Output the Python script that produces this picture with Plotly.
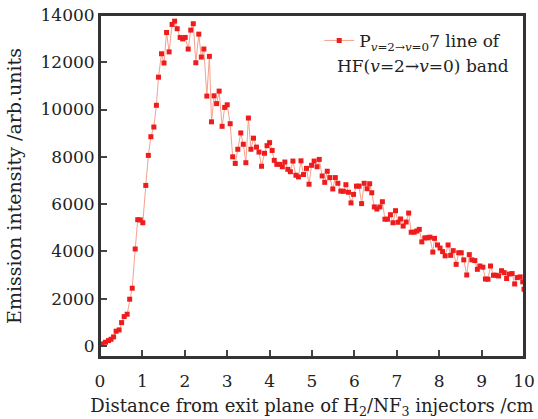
import plotly.graph_objects as go

# distance from exit plane (cm) and emission intensity (arb. units)
distance = [
    0.05, 0.13, 0.20, 0.26, 0.32, 0.38, 0.45, 0.51, 0.57, 0.64,
    0.70, 0.76, 0.83, 0.89, 0.95, 1.01, 1.08, 1.14, 1.20, 1.27,
    1.33, 1.38, 1.45, 1.51, 1.57, 1.63, 1.70, 1.76, 1.82, 1.89,
    1.95, 2.01, 2.08, 2.14, 2.20, 2.26, 2.33, 2.39, 2.45, 2.52,
    2.58, 2.63, 2.69, 2.75, 2.81, 2.88, 2.94, 3.00, 3.07, 3.13,
    3.19, 3.25, 3.32, 3.38, 3.44, 3.50, 3.56, 3.62, 3.69, 3.75,
    3.81, 3.88, 3.94, 4.00, 4.06, 4.11, 4.17, 4.24, 4.30, 4.36,
    4.43, 4.49, 4.55, 4.62, 4.68, 4.74, 4.80, 4.87, 4.93, 4.99,
    5.05, 5.12, 5.17, 5.24, 5.30, 5.36, 5.42, 5.49, 5.55, 5.61,
    5.68, 5.74, 5.80, 5.86, 5.92, 5.98, 6.05, 6.11, 6.17, 6.23,
    6.30, 6.36, 6.41, 6.47, 6.53, 6.60, 6.66, 6.72, 6.78, 6.85,
    6.91, 6.97, 7.03, 7.09, 7.15, 7.22, 7.28, 7.34, 7.41, 7.47,
    7.53, 7.59, 7.66, 7.72, 7.78, 7.85, 7.89, 7.96, 8.02, 8.08,
    8.14, 8.21, 8.27, 8.33, 8.40, 8.46, 8.52, 8.58, 8.65, 8.71,
    8.77, 8.84, 8.90, 8.96, 9.03, 9.09, 9.15, 9.21, 9.28, 9.34,
    9.40, 9.47, 9.53, 9.59, 9.65, 9.72, 9.78, 9.84, 9.91, 9.97,
    10.0,
]
intensity = [
    85, 155, 225, 280, 380, 620, 675, 985, 1240, 1340,
    1975, 2440, 4100, 5340, 5330, 5210, 6790, 8060, 8850, 9260,
    10180, 11370, 12360, 11970, 13260, 12440, 13600, 13740, 13420, 13050,
    12990, 13050, 12560, 13360, 13630, 11980, 13190, 12220, 12560, 10570,
    12250, 9480, 10580, 10250, 10780, 9290, 10090, 10200, 9400, 8000,
    7720, 8320, 9010, 8530, 7750, 9640, 8320, 8790, 8410, 8200,
    7600, 8150, 8470, 8600, 8270, 7850, 7680, 7680, 7580, 7780,
    7470, 7370, 7820, 7220, 7150, 7830, 7250, 7510, 6840, 7640,
    7820, 7580, 7890, 7190, 6920, 7390, 7120, 6640, 7120, 6880,
    6550, 6540, 6820, 6500, 6050, 6410, 6760, 6760, 6020, 6880,
    6650, 6860, 6480, 5880, 5790, 5880, 6100, 5360, 5360, 5550,
    5210, 5720, 5230, 5370, 5070, 5240, 5620, 4810, 4810, 4860,
    4930, 4400, 4570, 4570, 4600, 3970, 4550, 4270, 4140, 3990,
    3810, 4270, 3830, 4030, 3450, 3940, 3940, 3640, 3000, 3860,
    3640, 3610, 3240, 3380, 3330, 2830, 2820, 3380, 2990, 2990,
    2960, 3180, 3100, 2850, 3040, 3060, 2620, 2890, 2920, 2710,
    2400,
]

x_ticks = list(range(0, 11))
y_ticks = [0, 2000, 4000, 6000, 8000, 10000, 12000, 14000]

FONT = "DejaVu Serif"
TXT = "#222222"

fig = go.Figure()
fig.add_trace(go.Scatter(
    x=distance, y=intensity, mode="lines+markers",
    line=dict(color="#f7a08c", width=1),
    marker=dict(symbol="square", size=5, color="#ee1c1c"),
    name="P<sub><i>v</i>=2→<i>v</i>=0</sub>7 line of",
))

axis_common = dict(
    showline=True, linecolor="#333333", linewidth=2, mirror=True,
    ticks="inside", ticklen=7, tickwidth=2, tickcolor="#444444",
    showgrid=False, zeroline=False, automargin=False,
    ticklabeloverflow="allow",
    tickfont=dict(family=FONT, size=17, color=TXT),
)

fig.update_xaxes(
    range=[0, 10], tickvals=x_ticks, ticktext=[str(v) for v in x_ticks],
    ticklabelstandoff=8,
    title=dict(text="Distance from exit plane of H<sub>2</sub>/NF<sub>3</sub> injectors /cm",
               font=dict(family=FONT, size=18, color=TXT), standoff=12),
    **axis_common,
)
fig.update_yaxes(
    range=[-470, 14000], tickvals=y_ticks, ticktext=[str(v) for v in y_ticks],
    title=dict(text="Emission intensity /arb.units",
               font=dict(family=FONT, size=19, color=TXT), standoff=14),
    **axis_common,
)

fig.update_layout(
    width=538, height=419,
    margin=dict(l=100, r=14, t=15, b=62),
    plot_bgcolor="white", paper_bgcolor="white",
    showlegend=True,
    legend=dict(x=0.517, y=0.977, xanchor="left", yanchor="top",
                bgcolor="rgba(0,0,0,0)",
                font=dict(family=FONT, size=17, color=TXT)),
)

# full box frame round the plot area
fig.add_shape(type="rect", xref="paper", yref="paper", x0=0, y0=0, x1=1, y1=1,
              line=dict(color="#333333", width=2), fillcolor="rgba(0,0,0,0)")

# second line of the legend label, set apart as in the original
fig.add_annotation(
    text="HF(<i>v</i>=2→<i>v</i>=0) band", xref="paper", yref="paper",
    x=0.554, y=0.851, xanchor="left", yanchor="middle", showarrow=False,
    font=dict(family=FONT, size=17, color=TXT),
)

# drop the default 8px page margin so the figure sits at the window's corner
fig.write_html("out.html", config={"displayModeBar": False},
               post_script="document.body.style.margin='0px';")
